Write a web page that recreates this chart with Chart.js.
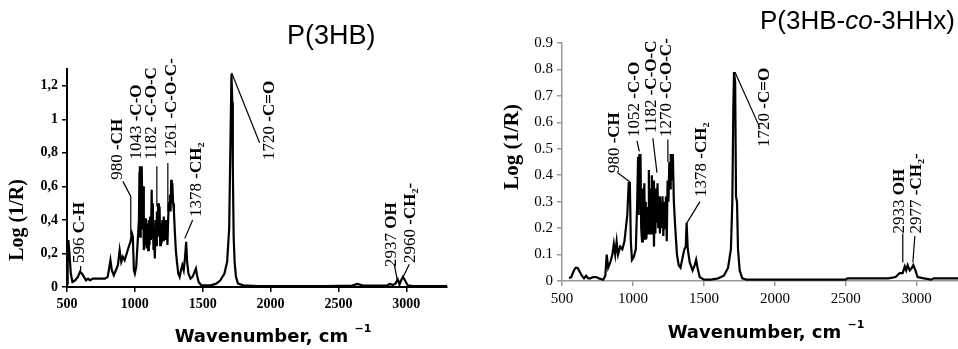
<!DOCTYPE html>
<html>
<head>
<meta charset="utf-8">
<script src="https://cdn.jsdelivr.net/npm/chart.js@4.4.0/dist/chart.umd.min.js"></script>
<style>
  html, body { margin: 0; padding: 0; background: #fff; }
  #wrap { position: relative; width: 958px; height: 349px; overflow: hidden; }
  .box { position: absolute; top: 0; height: 349px; }
</style>
</head>
<body>
<div id="wrap">
  <div class="box" style="left:0;width:480px"><canvas id="left"></canvas></div>
  <div class="box" style="left:480px;width:478px"><canvas id="right"></canvas></div>
</div>
<script>
// P(3HB) spectrum, [wavenumber, Log(1/R)]
const specP3HB = [
  [500,0.02],[505,0.2],[510,0.28],[518,0.2],[528,0.08],[540,0.03],[560,0.04],[580,0.06],[596,0.09],[610,0.08],
  [625,0.06],[640,0.04],[655,0.05],[670,0.04],[690,0.05],[720,0.05],[750,0.05],[780,0.05],[800,0.06],[812,0.12],
  [820,0.16],[830,0.1],[845,0.07],[860,0.1],[875,0.13],[888,0.22],[900,0.15],[912,0.18],[925,0.16],[940,0.2],
  [955,0.24],[968,0.27],[978,0.32],[985,0.3],[993,0.1],[1000,0.08],[1010,0.12],[1020,0.26],[1030,0.4],[1034,0.68],
  [1037,0.72],[1040,0.3],[1043,0.72],[1046,0.35],[1049,0.7],[1052,0.72],[1056,0.4],[1060,0.6],[1066,0.22],[1072,0.38],
  [1078,0.25],[1082,0.41],[1087,0.23],[1092,0.38],[1098,0.22],[1103,0.4],[1108,0.25],[1113,0.42],[1118,0.28],[1124,0.58],
  [1128,0.3],[1132,0.5],[1137,0.22],[1142,0.3],[1147,0.17],[1152,0.4],[1157,0.25],[1162,0.45],[1167,0.3],[1172,0.5],
  [1177,0.3],[1182,0.48],[1187,0.25],[1192,0.38],[1197,0.26],[1203,0.4],[1208,0.28],[1213,0.42],[1218,0.3],[1224,0.4],
  [1229,0.28],[1234,0.38],[1240,0.25],[1246,0.42],[1252,0.5],[1258,0.55],[1263,0.45],[1268,0.64],[1272,0.5],[1276,0.62],
  [1282,0.5],[1288,0.45],[1295,0.32],[1302,0.22],[1310,0.15],[1320,0.08],[1330,0.06],[1340,0.1],[1350,0.13],[1360,0.1],
  [1370,0.18],[1378,0.27],[1385,0.15],[1395,0.08],[1410,0.05],[1425,0.06],[1440,0.09],[1450,0.11],[1458,0.07],[1470,0.03],
  [1490,0.01],[1520,0.01],[1560,0.01],[1600,0.02],[1630,0.04],[1660,0.08],[1680,0.15],[1695,0.35],[1705,0.9],[1712,1.27],
  [1718,1.1],[1722,0.7],[1728,0.3],[1735,0.15],[1745,0.06],[1760,0.02],[1800,0.01],[1900,0.005],[2000,0.005],[2200,0.005],
  [2400,0.005],[2600,0.008],[2640,0.018],[2680,0.008],[2800,0.008],[2860,0.01],[2880,0.018],[2900,0.012],[2920,0.02],[2937,0.045],
  [2950,0.015],[2962,0.04],[2975,0.06],[2990,0.04],[3010,0.01],[3050,0.005],[3300,0.005]
];

// P(3HB-co-3HHx) spectrum, [wavenumber, Log(1/R)]
const specCopo = [
  [550,0.01],[565,0.015],[580,0.035],[595,0.05],[610,0.05],[625,0.035],[640,0.02],[655,0.01],[670,0.02],[685,0.01],
  [700,0.01],[720,0.015],[740,0.015],[760,0.01],[790,0.005],[805,0.02],[815,0.1],[825,0.05],[840,0.07],[855,0.1],
  [865,0.14],[875,0.1],[885,0.15],[895,0.1],[910,0.13],[925,0.12],[940,0.15],[950,0.2],[960,0.25],[970,0.37],
  [978,0.37],[985,0.15],[993,0.08],[1005,0.09],[1020,0.12],[1030,0.3],[1036,0.47],[1040,0.25],[1045,0.48],[1050,0.3],
  [1053,0.48],[1058,0.2],[1064,0.15],[1070,0.35],[1075,0.25],[1080,0.37],[1085,0.16],[1090,0.3],[1095,0.16],[1100,0.28],
  [1106,0.18],[1112,0.42],[1117,0.2],[1123,0.35],[1128,0.18],[1133,0.4],[1138,0.2],[1143,0.38],[1148,0.13],[1153,0.3],
  [1158,0.18],[1163,0.35],[1168,0.22],[1173,0.37],[1178,0.2],[1184,0.32],[1190,0.18],[1196,0.3],[1202,0.2],[1208,0.32],
  [1214,0.17],[1220,0.3],[1226,0.2],[1232,0.32],[1238,0.15],[1244,0.38],[1250,0.3],[1256,0.45],[1261,0.35],[1266,0.48],
  [1271,0.38],[1276,0.45],[1281,0.48],[1288,0.3],[1298,0.2],[1310,0.1],[1322,0.06],[1335,0.05],[1350,0.09],[1362,0.12],
  [1372,0.13],[1378,0.22],[1386,0.12],[1400,0.07],[1420,0.04],[1435,0.06],[1445,0.08],[1455,0.05],[1470,0.015],[1500,0.005],
  [1550,0.005],[1600,0.01],[1640,0.02],[1670,0.05],[1690,0.12],[1700,0.3],[1707,0.65],[1712,0.79],[1720,0.75],[1726,0.32],
  [1733,0.3],[1740,0.12],[1752,0.04],[1770,0.01],[1800,0.005],[2000,0.005],[2300,0.005],[2500,0.005],[2510,0.01],[2700,0.01],
  [2800,0.01],[2850,0.015],[2880,0.03],[2900,0.03],[2915,0.055],[2925,0.04],[2935,0.06],[2950,0.04],[2965,0.05],[2975,0.06],
  [2990,0.04],[3005,0.015],[3050,0.01],[3100,0.005],[3120,0.01],[3290,0.01]
];

const xTicks = [500, 1000, 1500, 2000, 2500, 3000];
const yTicksP3HB = [0, 0.2, 0.4, 0.6, 0.8, 1, 1.2];
const yTicksCopo = [0, 0.1, 0.2, 0.3, 0.4, 0.5, 0.6, 0.7, 0.8, 0.9];

// band assignments: wavenumber label + group
const bandsP3HB = ['596', '980', '1043', '1182', '1261', '1378', '1720', '2937', '2960'];
const groupsP3HB = ['C-H', '-CH', '-C-O', '-C-O-C', '-C-O-C-', '-CH\u2082', '-C=O', 'OH', '-CH\u2082-'];
const bandsCopo = ['980', '1052', '1182', '1270', '1378', '1720', '2933', '2977'];
const groupsCopo = ['-CH', '-C-O', '-C-O-C', '-C-O-C-', '-CH\u2082', '-C=O', 'OH', '-CH\u2082-'];

const SERIF = '"Liberation Serif", "DejaVu Serif", serif';

function drawSegs(ctx, segs, x, y, align) {
  let total = 0;
  segs.forEach(s => { ctx.font = s.f; total += ctx.measureText(s.t).width; });
  let cx = align === 'center' ? x - total / 2 : x;
  segs.forEach(s => {
    ctx.font = s.f;
    ctx.fillText(s.t, cx, y + (s.dy || 0));
    cx += ctx.measureText(s.t).width;
  });
}

const decor = {
  id: 'decor',
  afterDatasetsDraw(chart, args, o) {
    const ctx = chart.ctx;
    const xs = chart.scales.x, ys = chart.scales.y;
    ctx.save();
    ctx.fillStyle = '#000';
    ctx.strokeStyle = '#000';
    ctx.lineWidth = 1.2;
    ctx.textBaseline = 'middle';
    ctx.textAlign = 'left';
    o.marks.forEach((m, i) => {
      if (m.line.length) {
        ctx.beginPath();
        m.line.forEach((p, k) => {
          const px = xs.getPixelForValue(p[0]), py = ys.getPixelForValue(p[1]);
          k ? ctx.lineTo(px, py) : ctx.moveTo(px, py);
        });
        ctx.stroke();
      }
      ctx.save();
      ctx.translate(xs.getPixelForValue(m.at[0]), ys.getPixelForValue(m.at[1]));
      ctx.rotate(-Math.PI / 2);
      drawSegs(ctx, [
        { t: o.bands[i] + ' ', f: o.labelSize + 'px ' + SERIF },
        { t: o.groups[i], f: 'bold ' + o.labelSize + 'px ' + SERIF }
      ], 0, 0, 'left');
      ctx.restore();
    });
    // panel title
    drawSegs(ctx, o.title.segs, o.title.x, o.title.y, 'left');
    // x axis title
    const xf = 'bold ' + o.xTitle.size + 'px "DejaVu Sans", sans-serif';
    const sf = 'bold ' + Math.round(o.xTitle.size * 0.62) + 'px "DejaVu Sans", sans-serif';
    drawSegs(ctx, [
      { t: 'Wavenumber, cm ', f: xf },
      { t: '\u22121', f: sf, dy: -o.xTitle.size * 0.45 }
    ], o.xTitle.x, o.xTitle.y, 'center');
    // y axis title
    ctx.save();
    ctx.translate(o.yTitle.x, o.yTitle.y);
    ctx.rotate(-Math.PI / 2);
    drawSegs(ctx, [{ t: 'Log (1/R)', f: 'bold ' + o.yTitle.size + 'px ' + SERIF }], 0, 0, 'center');
    ctx.restore();
    ctx.restore();
  }
};

function makeChart(id, p) {
  return new Chart(document.getElementById(id), {
    type: 'line',
    data: {
      datasets: [{
        data: p.spec.map(d => ({ x: d[0], y: d[1] })),
        borderColor: '#000',
        borderWidth: 2.2,
        pointRadius: 0,
        tension: 0
      }]
    },
    options: {
      responsive: true,
      maintainAspectRatio: false,
      animation: false,
      layout: { padding: p.pad },
      plugins: { legend: { display: false }, tooltip: { enabled: false }, decor: p.decor },
      scales: {
        x: {
          type: 'linear', min: 500, max: p.xMax,
          afterBuildTicks: s => { s.ticks = xTicks.map(v => ({ value: v })); },
          afterFit: s => { s.height = p.xH; },
          border: { display: true, color: p.axisColor, width: p.axisW },
          grid: { drawOnChartArea: false, drawTicks: true, tickLength: 5, color: p.axisColor, lineWidth: 1.5 },
          ticks: { color: '#000', padding: 4, maxRotation: 0, callback: v => String(v),
                   font: { family: SERIF, size: p.tickSize, weight: p.tickWeight } }
        },
        y: {
          min: 0, max: p.yMax,
          afterBuildTicks: s => { s.ticks = p.yTicks.map(v => ({ value: v })); },
          afterFit: s => { s.width = p.yW; },
          border: { display: true, color: p.axisColor, width: p.axisW },
          grid: { drawOnChartArea: false, drawTicks: true, tickLength: 5, color: p.axisColor, lineWidth: 1.5 },
          ticks: { color: '#000', padding: 4, callback: p.fmt,
                   font: { family: SERIF, size: p.tickSize, weight: p.tickWeight } }
        }
      }
    },
    plugins: [decor]
  });
}

makeChart('left', {
  spec: specP3HB, xMax: 3300, yMax: 1.3, yTicks: yTicksP3HB,
  pad: { left: 0, right: 33, top: 69, bottom: 0 }, xH: 62, yW: 67,
  axisColor: '#000', axisW: 2, tickWeight: 'bold', tickSize: 14,
  fmt: v => String(v).replace('.', ','),
  decor: {
    bands: bandsP3HB, groups: groupsP3HB, labelSize: 17,
    marks: [
      { at: [596, 0.143], line: [[601, 0.125], [599, 0.085]] },
      { at: [875, 0.64], line: [[912, 0.63], [970, 0.54], [970, 0.31]] },
      { at: [1015, 0.76], line: [] },
      { at: [1125, 0.76], line: [[1162, 0.72], [1162, 0.48]] },
      { at: [1272, 0.776], line: [[1243, 0.74], [1243, 0.45]] },
      { at: [1456, 0.418], line: [[1426, 0.40], [1368, 0.29]] },
      { at: [1993, 0.758], line: [[1919, 0.86], [1713, 1.278]] },
      { at: [2890, 0.12], line: [[2912, 0.135], [2934, 0.04]] },
      { at: [3029, 0.143], line: [[3022, 0.135], [2971, 0.05]] }
    ],
    title: { x: 287, y: 37, segs: [{ t: 'P(3HB)', f: '27px "Liberation Sans", Arial, sans-serif' }] },
    xTitle: { x: 273, y: 337, size: 18 },
    yTitle: { x: 18, y: 220, size: 20 }
  }
});

makeChart('right', {
  spec: specCopo, xMax: 3290, yMax: 0.9, yTicks: yTicksCopo,
  pad: { left: 0, right: 0, top: 43, bottom: 0 }, xH: 68, yW: 82,
  axisColor: '#999', axisW: 1.5, tickWeight: 'normal', tickSize: 15,
  fmt: v => v === 0 ? '0' : v.toFixed(1),
  decor: {
    bands: bandsCopo, groups: groupsCopo, labelSize: 17,
    marks: [
      { at: [873, 0.408], line: [[890, 0.41], [979, 0.374]] },
      { at: [1014, 0.545], line: [[1028, 0.53], [1045, 0.49]] },
      { at: [1134, 0.56], line: [[1140, 0.54], [1169, 0.41]] },
      { at: [1239, 0.545], line: [[1246, 0.535], [1246, 0.45]] },
      { at: [1486, 0.318], line: [[1472, 0.30], [1380, 0.22]] },
      { at: [1930, 0.507], line: [[1894, 0.58], [1718, 0.79]] },
      { at: [2880, 0.18], line: [[2901, 0.18], [2901, 0.07]] },
      { at: [3000, 0.18], line: [[2986, 0.17], [2972, 0.07]] }
    ],
    title: { x: 280, y: 22, segs: [
      { t: 'P(3HB-', f: '26px "Liberation Sans", Arial, sans-serif' },
      { t: 'co', f: 'italic 26px "Liberation Sans", Arial, sans-serif' },
      { t: '-3HHx)', f: '26px "Liberation Sans", Arial, sans-serif' }
    ] },
    xTitle: { x: 286, y: 333, size: 18 },
    yTitle: { x: 33, y: 147, size: 21 }
  }
});
</script>
</body>
</html>
